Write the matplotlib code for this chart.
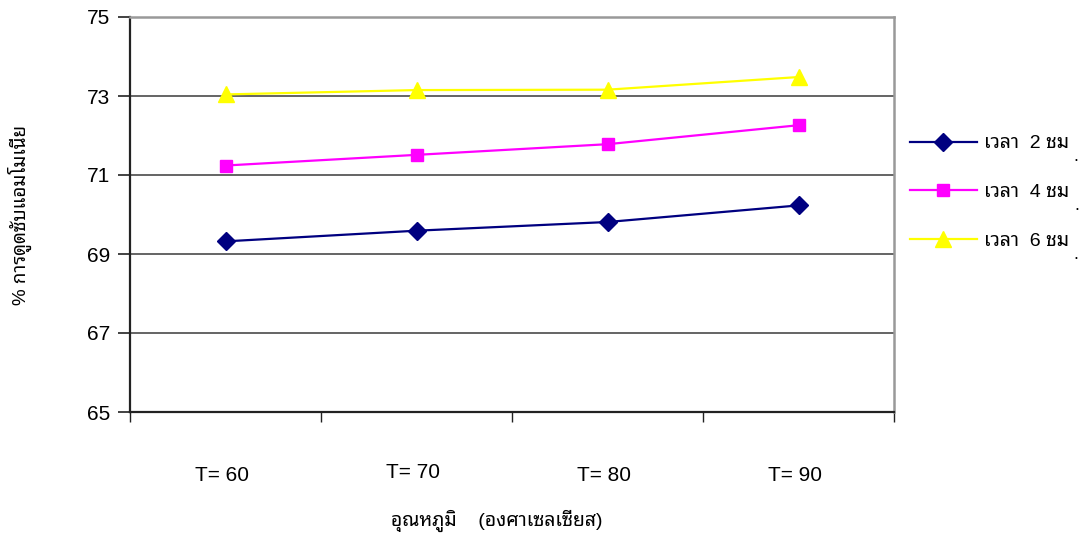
import matplotlib
matplotlib.use("Agg")
import matplotlib.pyplot as plt
from matplotlib.transforms import blended_transform_factory, ScaledTranslation

plt.rcParams['font.family'] = ['Liberation Sans', 'Noto Sans Thai Looped', 'DejaVu Sans']

# Data
categories = ["T= 60", "T= 70", "T= 80", "T= 90"]
series_labels = ["เวลา  2 ชม", "เวลา  4 ชม", "เวลา  6 ชม"]
hours2 = [69.32, 69.59, 69.81, 70.23]
hours4 = [71.24, 71.51, 71.78, 72.26]
hours6 = [73.04, 73.15, 73.16, 73.48]
yticks = [65, 67, 69, 71, 73, 75]
ylabel = "% การดูดซับแอมโมเนีย"
xlabel = "อุณหภูมิ    (องศาเซลเซียส)"

styles = [
    dict(color="#000080", marker="D", ms=9),
    dict(color="#FF00FF", marker="s", ms=9),
    dict(color="#FFFF00", marker="^", ms=11),
]

fig = plt.figure(figsize=(10.87, 5.40), dpi=100)
ax = fig.add_axes([130 / 1087, 1 - 412 / 540, (894 - 130) / 1087, (412 - 17) / 540])

x = list(range(len(categories)))
lines = []
for vals, lab, st in zip([hours2, hours4, hours6], series_labels, styles):
    ln, = ax.plot(x, vals, color=st["color"], lw=1.6, marker=st["marker"],
                  ms=st["ms"], mec=st["color"], mfc=st["color"], label=lab,
                  zorder=3, clip_on=False)
    lines.append(ln)

ax.set_xlim(-0.5, len(categories) - 0.5)
ax.set_ylim(yticks[0], yticks[-1])
ax.set_yticks(yticks)
ax.set_yticklabels([str(t) for t in yticks], fontsize=15)
ax.set_xticks([i - 0.5 for i in range(len(categories) + 1)])
ax.set_xticklabels([])
ax.tick_params(axis="y", direction="out", length=9, width=1.2, color="#222222", pad=5)
ax.tick_params(axis="x", direction="out", length=7.5, width=1.0, color="#222222")

for yv in yticks[1:-1]:
    ax.axhline(yv, color="#3a3a3a", lw=1.1, zorder=1)

ax.spines["left"].set_color("#222222")
ax.spines["left"].set_linewidth(1.6)
ax.spines["bottom"].set_color("#222222")
ax.spines["bottom"].set_linewidth(1.6)
ax.spines["top"].set_color("#999999")
ax.spines["top"].set_linewidth(1.8)
ax.spines["right"].set_color("#999999")
ax.spines["right"].set_linewidth(1.8)

# Category labels well below the axis
trans = blended_transform_factory(ax.transData, ax.transAxes)
label_dy = [-0.162, -0.152, -0.162, -0.162]
for i, (cat, dy) in enumerate(zip(categories, label_dy)):
    ax.text(i - 0.02, dy, cat, transform=trans, ha="center", va="center", fontsize=15)

fig.text(497 / 1087, 1 - 521 / 540, xlabel, ha="center", va="center", fontsize=14)
fig.text(20 / 1087, 1 - 215 / 540, ylabel, ha="center", va="center", rotation=90, fontsize=13.5)

leg = fig.legend(handles=lines, loc="upper left", bbox_to_anchor=(902 / 1087, 1 - 127 / 540),
                 frameon=False, fontsize=14, handlelength=3.45, handletextpad=0.35,
                 labelspacing=1.6, borderaxespad=0)

# Trailing period of each legend entry sits low, just after the text
fig.canvas.draw()
for t in leg.get_texts():
    bb = t.get_window_extent()
    off = ScaledTranslation(5 / 100, -9 / 100, fig.dpi_scale_trans)
    fig.text(bb.x1 / fig.bbox.width, bb.y0 / fig.bbox.height, ".", fontsize=13,
             ha="left", va="baseline", transform=fig.transFigure + off)

fig.savefig("out.png", dpi=100)
